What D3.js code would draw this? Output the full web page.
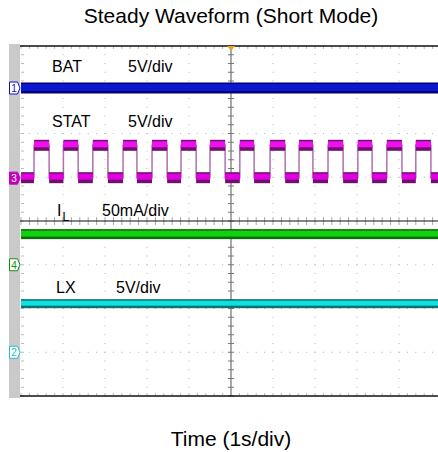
<!DOCTYPE html>
<meta charset="utf-8">
<head>
  <title>Steady Waveform (Short Mode)</title>
  <script src="https://d3js.org/d3.v7.min.js"></script>
</head>
<style>
  body { margin: 0; background: #fff; font-family: Arial, "Liberation Sans", sans-serif; }
  svg { display: block; }
</style>
<body>
<script>
  // channel levels, in divisions from screen centre
  var batLevel = 3.04,
      ilLevel = -0.30,
      lxLevel = -1.89,
      statHigh = 1.73,
      statLow = 0.99;

  // STAT edges, in divisions (1 s/div)
  var statRise = [0.31, 1.01, 1.71, 2.43, 3.12, 3.81, 4.50, 5.21, 5.93, 6.62, 7.31, 8.02, 8.71, 9.40];
  var statFall = [0.67, 1.36, 2.07, 2.76, 3.48, 4.17, 4.86, 5.55, 6.29, 6.95, 7.67, 8.36, 9.07, 9.76];

  // channel ground markers on the left
  var markers = [
    {label: "1", level: 3.04, color: "#1010c8", filled: false},
    {label: "3", level: 0.98, color: "#c000c0", filled: true},
    {label: "4", level: -1.0, color: "#109010", filled: false},
    {label: "2", level: -3.0, color: "#20c0d0", filled: false}
  ];

  var traceLabels = [
    {name: "BAT", sub: "", scale: "5V/div", level: 3.41, nx: 52, sx: 128},
    {name: "STAT", sub: "", scale: "5V/div", level: 2.15, nx: 52, sx: 128},
    {name: "I", sub: "L", scale: "50mA/div", level: 0.11, nx: 57, sx: 102},
    {name: "LX", sub: "", scale: "5V/div", level: -1.65, nx: 56, sx: 116}
  ];

  var W = 438, H = 452;
  var x = d3.scaleLinear().domain([0, 10]).range([21, 441]);
  var y = d3.scaleLinear().domain([-4, 4]).range([396, 46]);

  var svg = d3.select("body").append("svg").attr("width", W).attr("height", H);

  // title + axis title
  svg.append("text").attr("x", 231).attr("y", 23).attr("text-anchor", "middle")
    .style("font-size", "21px").text("Steady Waveform (Short Mode)");
  svg.append("text").attr("x", 231).attr("y", 446).attr("text-anchor", "middle")
    .style("font-size", "21px").text("Time (1s/div)");

  // gray side strip
  svg.append("rect").attr("x", 9).attr("y", 44).attr("width", 11).attr("height", 354).attr("fill", "#cacaca");

  var grid = svg.append("g");
  var minorX = d3.range(0, 50.01, 1).map(function(i) { return i / 5; });
  var minorY = d3.range(0, 40.01, 1).map(function(i) { return -4 + i / 5; });

  // dotted grid: vertical lines
  d3.range(1, 10).forEach(function(k) {
    if (k === 5) return;
    grid.selectAll(null).data(minorY).enter().append("rect")
      .attr("x", x(k) - 0.5).attr("y", function(d) { return y(d) - 0.5; })
      .attr("width", 1).attr("height", 1).attr("fill", "#b4b4b4");
  });
  // dotted grid: horizontal lines
  d3.range(-3, 4).forEach(function(k) {
    if (k === 0) return;
    grid.selectAll(null).data(minorX).enter().append("rect")
      .attr("x", function(d) { return x(d) - 0.5; }).attr("y", y(k) - 0.5)
      .attr("width", 1).attr("height", 1).attr("fill", "#b4b4b4");
  });

  // ticks along top, bottom and left edges
  grid.selectAll(null).data(minorX).enter().append("line")
    .attr("x1", function(d) { return x(d); }).attr("x2", function(d) { return x(d); })
    .attr("y1", y(4)).attr("y2", y(4) + 3).attr("stroke", "#bbb");
  grid.selectAll(null).data(minorX).enter().append("line")
    .attr("x1", function(d) { return x(d); }).attr("x2", function(d) { return x(d); })
    .attr("y1", y(-4)).attr("y2", y(-4) - 3).attr("stroke", "#bbb");
  grid.selectAll(null).data(minorY).enter().append("line")
    .attr("x1", x(0)).attr("x2", x(0) + 3)
    .attr("y1", function(d) { return y(d); }).attr("y2", function(d) { return y(d); })
    .attr("stroke", "#bbb");

  // centre vertical axis
  grid.append("line").attr("x1", x(5)).attr("x2", x(5)).attr("y1", y(4)).attr("y2", y(-4))
    .attr("stroke", "#a8a8a8").attr("stroke-width", 2);
  grid.selectAll(null).data(minorY).enter().append("line")
    .attr("x1", x(5) - 3).attr("x2", x(5) + 3)
    .attr("y1", function(d) { return y(d); }).attr("y2", function(d) { return y(d); })
    .attr("stroke", "#777");

  // centre horizontal axis
  grid.selectAll(null).data(minorX).enter().append("line")
    .attr("x1", function(d) { return x(d); }).attr("x2", function(d) { return x(d); })
    .attr("y1", y(0) - 4).attr("y2", y(0) + 4).attr("stroke", "#aaa");
  grid.append("line").attr("x1", x(0) - 1).attr("x2", W).attr("y1", y(0)).attr("y2", y(0))
    .attr("stroke", "#111").attr("stroke-width", 1.2);

  // frame top / bottom
  grid.append("line").attr("x1", x(0) - 1).attr("x2", W).attr("y1", y(4)).attr("y2", y(4))
    .attr("stroke", "#111").attr("stroke-width", 1.5);
  grid.append("line").attr("x1", x(0) - 1).attr("x2", W).attr("y1", y(-4)).attr("y2", y(-4))
    .attr("stroke", "#111").attr("stroke-width", 1.5);

  // trigger marker
  svg.append("path")
    .attr("d", "M" + (x(5) - 4) + "," + y(4) + "L" + (x(5) + 4) + "," + y(4) + "L" + x(5) + "," + (y(4) + 5) + "Z")
    .attr("fill", "#f0a020");

  // trace band helper: outer dark band + bright core
  function band(g, x0, x1, level, h, dark, bright, core) {
    g.append("rect").attr("x", x(x0)).attr("y", y(level) - h / 2)
      .attr("width", x(x1) - x(x0)).attr("height", h).attr("fill", dark);
    g.append("rect").attr("x", x(x0)).attr("y", y(level) - h / 2 + 1.5)
      .attr("width", x(x1) - x(x0)).attr("height", core).attr("fill", bright);
  }

  var traces = svg.append("g");
  var xEnd = x.invert(W);

  // BAT
  band(traces, 0, xEnd, batLevel, 11, "#00007a", "#0a18d0", 7);

  // STAT
  var statG = traces.append("g");
  var pts = [[0, statLow]];
  statRise.forEach(function(r, i) {
    pts.push([r, statLow], [r, statHigh], [statFall[i], statHigh], [statFall[i], statLow]);
  });
  pts.push([xEnd, statLow]);
  statG.append("path")
    .attr("d", d3.line().x(function(d) { return x(d[0]); }).y(function(d) { return y(d[1]); })(pts))
    .attr("fill", "none").attr("stroke", "#b070b0").attr("stroke-width", 1.5);
  var lows = [[0, statRise[0]]];
  statFall.forEach(function(f, i) { lows.push([f, i + 1 < statRise.length ? statRise[i + 1] : xEnd]); });
  lows.forEach(function(s) { band(statG, s[0], s[1], statLow, 11, "#70106e", "#e000e0", 6); });
  statRise.forEach(function(r, i) { band(statG, r, statFall[i], statHigh, 11, "#70106e", "#ee10ee", 6); });

  // IL
  band(traces, 0, xEnd, ilLevel, 10, "#0c6a0c", "#10d010", 6);

  // LX
  band(traces, 0, xEnd, lxLevel, 9, "#0a7070", "#10e0e0", 5);

  // ground markers
  var mk = svg.selectAll(".marker").data(markers).enter().append("g")
    .attr("transform", function(d) { return "translate(9," + y(d.level) + ")"; });
  mk.append("path")
    .attr("d", "M0.5,-6L8.5,-6L11,0L8.5,6L0.5,6Z")
    .attr("fill", function(d) { return d.filled ? d.color : "#fff"; })
    .attr("stroke", function(d) { return d.color; }).attr("stroke-width", 1);
  mk.append("text").attr("x", 5).attr("y", 4).attr("text-anchor", "middle")
    .style("font-size", "10px")
    .attr("fill", function(d) { return d.filled ? "#fff" : d.color; })
    .text(function(d) { return d.label; });

  // trace labels
  var lb = svg.selectAll(".tlabel").data(traceLabels).enter().append("g");
  var nameText = lb.append("text").attr("x", function(d) { return d.nx; })
    .attr("y", function(d) { return y(d.level); })
    .style("font-size", "16px");
  nameText.append("tspan").text(function(d) { return d.name; });
  nameText.append("tspan").attr("dx", 1).attr("dy", 5).style("font-size", "12px").text(function(d) { return d.sub; });
  lb.append("text").attr("x", function(d) { return d.sx; })
    .attr("y", function(d) { return y(d.level); })
    .style("font-size", "16px").text(function(d) { return d.scale; });
</script>
</body>
